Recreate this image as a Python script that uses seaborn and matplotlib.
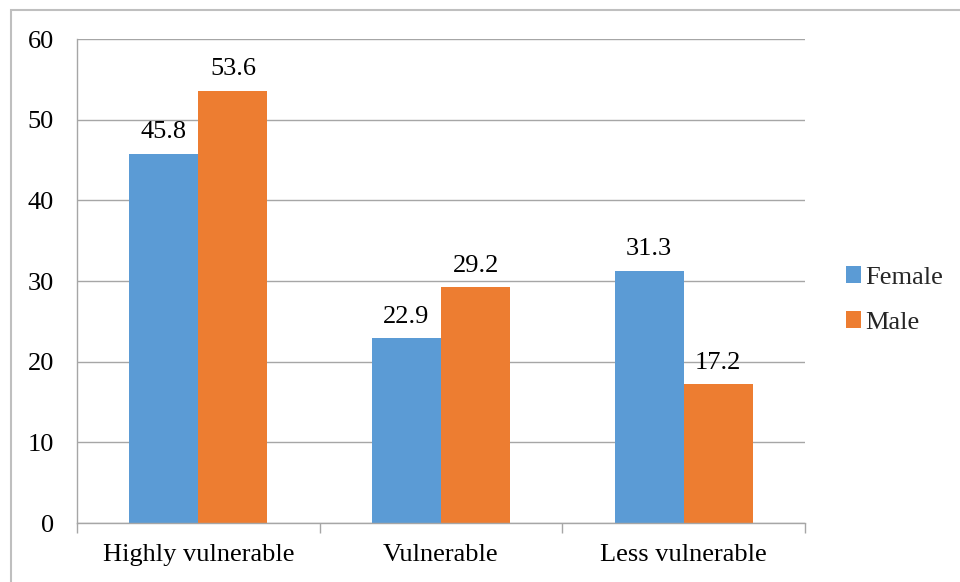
import matplotlib
matplotlib.use("Agg")
import matplotlib.pyplot as plt
from matplotlib.patches import Rectangle
from matplotlib.ticker import FixedLocator
import seaborn as sns
import pandas as pd

categories = ["Highly vulnerable", "Vulnerable", "Less vulnerable"]
female = [45.8, 22.9, 31.3]
male = [53.6, 29.2, 17.2]
series = ["Female", "Male"]
colors = ["#5B9BD5", "#ED7D31"]
yticks = [0, 10, 20, 30, 40, 50, 60]

df = pd.DataFrame({
    "category": categories * 2,
    "value": female + male,
    "sex": [series[0]] * 3 + [series[1]] * 3,
})

sns.set_theme(style="white")
plt.rcParams["font.family"] = ["Liberation Serif", "DejaVu Serif"]
FS = 19

fig = plt.figure(figsize=(9.6, 5.82), dpi=100)
ax = fig.add_axes([77 / 960, 1 - 523 / 582, (805 - 77) / 960, (523 - 39) / 582])

sns.barplot(data=df, x="category", y="value", hue="sex", order=categories,
            hue_order=series, palette=colors, width=0.57, saturation=1,
            errorbar=None, ax=ax, linewidth=0)

for cont in ax.containers:
    ax.bar_label(cont, fmt="%.1f", padding=7.5, fontsize=FS, color="#000000")

grid_c = "#A6A6A6"
ax.set_ylim(0, 60)
ax.set_xlim(-0.5, 2.5)
ax.set_yticks(yticks)
ax.yaxis.grid(True, color=grid_c, linewidth=1.0)
ax.set_axisbelow(True)
ax.tick_params(axis="y", length=7, color=grid_c, width=1.0, labelsize=FS,
               pad=9.5, labelcolor="#000000")
ax.tick_params(axis="x", which="major", length=0, labelsize=FS, pad=15,
               labelcolor="#000000")
ax.xaxis.set_minor_locator(FixedLocator([-0.5, 0.5, 1.5, 2.5]))
ax.tick_params(axis="x", which="minor", length=7, color=grid_c, width=1.0,
               bottom=True)
for side in ["top", "right"]:
    ax.spines[side].set_visible(False)
for side in ["left", "bottom"]:
    ax.spines[side].set_color(grid_c)
    ax.spines[side].set_linewidth(1.0)
ax.set_xlabel("")
ax.set_ylabel("")

ax.legend_.remove()
handles, labels = ax.get_legend_handles_labels()
fig.legend(handles, labels, loc="center left",
           bbox_to_anchor=(846 / 960, 1 - 300 / 582), frameon=False,
           fontsize=FS, handlelength=0.58, handleheight=0.58,
           handletextpad=0.16, labelspacing=0.85, borderaxespad=0,
           borderpad=0)

fig.patches.append(Rectangle((11 / 960, -0.1), 1.2, 1 - 10 / 582 + 0.1,
                             transform=fig.transFigure, fill=False,
                             edgecolor="#BFBFBF", linewidth=1.5))

fig.savefig("out.png", dpi=100)
